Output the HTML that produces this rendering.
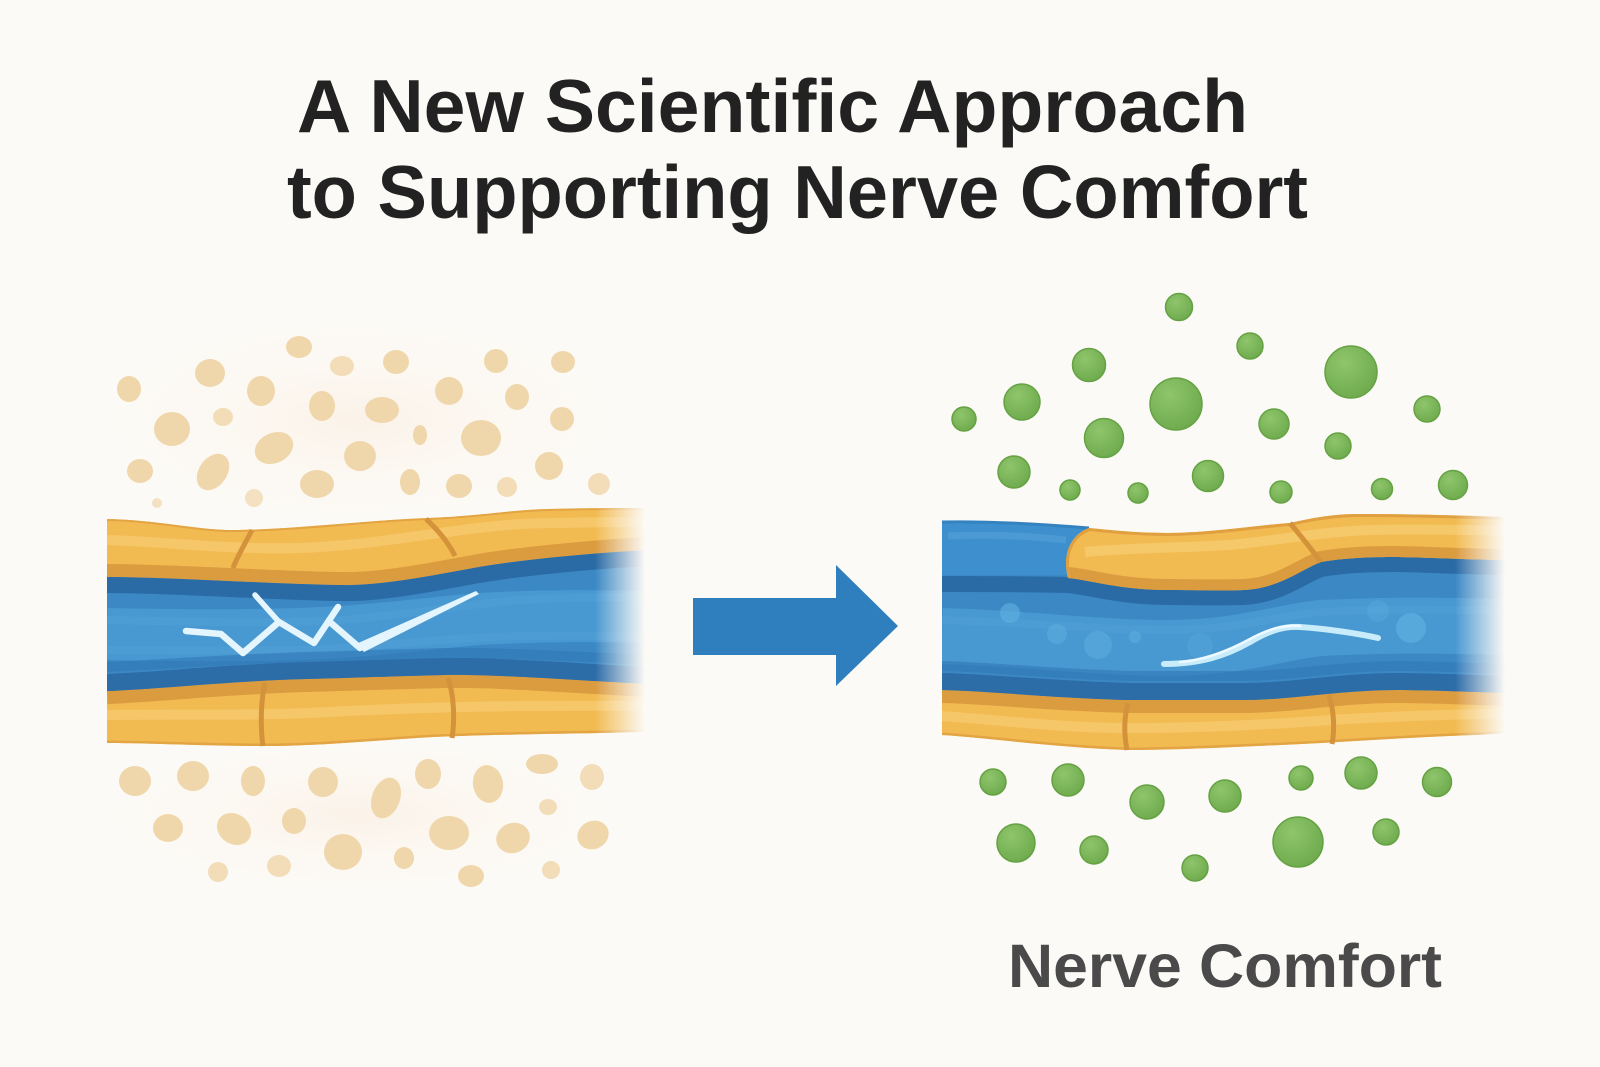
<!DOCTYPE html>
<html><head><meta charset="utf-8"><style>
html,body{margin:0;padding:0;background:#fcfaf6;}
svg{display:block;}
</style></head><body>
<svg width="1600" height="1067" viewBox="0 0 1600 1067" xmlns="http://www.w3.org/2000/svg">
<defs>
<radialGradient id="gd" cx="0.38" cy="0.32" r="0.7">
<stop offset="0" stop-color="#8fc56c"/><stop offset="1" stop-color="#6fab4e"/>
</radialGradient>
<radialGradient id="warm" cx="0.5" cy="0.5" r="0.5">
<stop offset="0" stop-color="#fbf2e8"/><stop offset="1" stop-color="#fcfaf6" stop-opacity="0"/>
</radialGradient>
<linearGradient id="fadeL" gradientUnits="userSpaceOnUse" x1="595" y1="0" x2="645" y2="0">
<stop offset="0" stop-color="#fff"/><stop offset="1" stop-color="#000"/>
</linearGradient>
<linearGradient id="fadeR" gradientUnits="userSpaceOnUse" x1="1455" y1="0" x2="1505" y2="0">
<stop offset="0" stop-color="#fff"/><stop offset="1" stop-color="#000"/>
</linearGradient>
<mask id="mL"><rect x="0" y="0" width="1600" height="1067" fill="url(#fadeL)"/></mask>
<mask id="mR"><rect x="0" y="0" width="1600" height="1067" fill="url(#fadeR)"/></mask>
<clipPath id="cBL"><path d="M107,577 C170,577 270,584 341,585 C380,586 430,576 479,567 C520,560 590,553 650,550 L650,684 C600,682 500,674 445,675 C400,676 350,678 307,679 C230,681 160,689 107,691 Z"/></clipPath>
<clipPath id="cUL"><path d="M107,519 C160,520 200,531 238,530 C300,529 370,520 428,518 C480,516 510,510 548,509 C590,508 620,508 650,508 L650,605 L107,605 Z"/></clipPath>
<clipPath id="cLL"><path d="M107,670 L650,665 L650,732 C620,732 610,733 600,733 C540,734 480,735 433,737 C380,740 320,746 267,746 C200,746 150,743 107,743 Z"/></clipPath>
<clipPath id="cBR"><path d="M942,522 C990,521 1040,524 1089,528 L1080,560 L1300,560 L1350,545 L1510,545 L1510,693 C1470,692 1430,690 1397,690 C1340,690 1290,700 1244,700 C1200,700 1160,700 1130,700 C1050,698 990,691 942,690 Z"/></clipPath>
<clipPath id="cYR"><path d="M1068,578 C1062,555 1070,535 1089,528 C1120,531 1140,533 1168,533 C1210,533 1260,525 1290,523 C1320,516 1340,514 1359,514 C1420,514 1470,516 1510,517 L1510,560 C1480,560 1440,558 1398,557 C1380,557 1350,557 1321,562 C1300,570 1280,588 1244,590 C1220,591 1190,590 1168,590 C1120,590 1090,580 1068,578 Z"/></clipPath>
<clipPath id="cLR"><path d="M942,675 L1510,675 L1510,733 C1490,734 1480,735 1474,735 C1420,737 1370,740 1321,743 C1260,746 1180,750 1130,750 C1060,748 990,738 942,735 Z"/></clipPath>
</defs>

<rect width="1600" height="1067" fill="#fcfaf6"/>
<ellipse cx="360" cy="420" rx="300" ry="120" fill="url(#warm)"/>
<ellipse cx="360" cy="815" rx="300" ry="90" fill="url(#warm)"/>

<!-- Title -->
<text x="297" y="132" font-family="Liberation Sans, Arial, sans-serif" font-weight="bold" font-size="75" fill="#222" textLength="951" lengthAdjust="spacingAndGlyphs">A New Scientific Approach</text>
<text x="287" y="218" font-family="Liberation Sans, Arial, sans-serif" font-weight="bold" font-size="75" fill="#222" textLength="1021" lengthAdjust="spacingAndGlyphs">to Supporting Nerve Comfort</text>

<!-- Beige dots top -->
<g fill="#f0d7ab">
<ellipse cx="299" cy="347" rx="13" ry="11"/>
<ellipse cx="342" cy="366" rx="12" ry="10" fill="#f2ddb8"/>
<ellipse cx="396" cy="362" rx="13" ry="12"/>
<ellipse cx="496" cy="361" rx="12" ry="12"/>
<ellipse cx="563" cy="362" rx="12" ry="11"/>
<ellipse cx="210" cy="373" rx="15" ry="14"/>
<ellipse cx="129" cy="389" rx="12" ry="13"/>
<ellipse cx="261" cy="391" rx="14" ry="15"/>
<ellipse cx="449" cy="391" rx="14" ry="14"/>
<ellipse cx="517" cy="397" rx="12" ry="13"/>
<ellipse cx="322" cy="406" rx="13" ry="15"/>
<ellipse cx="382" cy="410" rx="17" ry="13"/>
<ellipse cx="223" cy="417" rx="10" ry="9" fill="#f2ddb8"/>
<ellipse cx="172" cy="429" rx="18" ry="17"/>
<ellipse cx="562" cy="419" rx="12" ry="12"/>
<ellipse cx="420" cy="435" rx="7" ry="10"/>
<ellipse cx="481" cy="438" rx="20" ry="18"/>
<ellipse cx="274" cy="448" rx="20" ry="15" transform="rotate(-25 274 448)"/>
<ellipse cx="360" cy="456" rx="16" ry="15"/>
<ellipse cx="140" cy="471" rx="13" ry="12"/>
<ellipse cx="213" cy="472" rx="14" ry="20" transform="rotate(35 213 472)"/>
<ellipse cx="549" cy="466" rx="14" ry="14"/>
<ellipse cx="317" cy="484" rx="17" ry="14"/>
<ellipse cx="410" cy="482" rx="10" ry="13"/>
<ellipse cx="459" cy="486" rx="13" ry="12"/>
<ellipse cx="507" cy="487" rx="10" ry="10" fill="#f2ddb8"/>
<ellipse cx="599" cy="484" rx="11" ry="11" fill="#f2ddb8"/>
<ellipse cx="254" cy="498" rx="9" ry="9" fill="#f3e1c2"/>
<ellipse cx="157" cy="503" rx="5" ry="5" fill="#f3e1c2"/>
</g>
<!-- Beige dots bottom -->
<g fill="#f0d7ab">
<ellipse cx="135" cy="781" rx="16" ry="15"/>
<ellipse cx="193" cy="776" rx="16" ry="15"/>
<ellipse cx="253" cy="781" rx="12" ry="15"/>
<ellipse cx="323" cy="782" rx="15" ry="15"/>
<ellipse cx="386" cy="798" rx="14" ry="21" transform="rotate(20 386 798)"/>
<ellipse cx="428" cy="774" rx="13" ry="15"/>
<ellipse cx="488" cy="784" rx="15" ry="19" transform="rotate(-10 488 784)"/>
<ellipse cx="542" cy="764" rx="16" ry="10"/>
<ellipse cx="592" cy="777" rx="12" ry="13" fill="#f2ddb8"/>
<ellipse cx="548" cy="807" rx="9" ry="8" fill="#f2ddb8"/>
<ellipse cx="168" cy="828" rx="15" ry="14"/>
<ellipse cx="234" cy="829" rx="18" ry="15" transform="rotate(35 234 829)"/>
<ellipse cx="294" cy="821" rx="12" ry="13"/>
<ellipse cx="449" cy="833" rx="20" ry="17"/>
<ellipse cx="513" cy="838" rx="17" ry="15" transform="rotate(-20 513 838)"/>
<ellipse cx="593" cy="835" rx="16" ry="14" transform="rotate(-25 593 835)"/>
<ellipse cx="343" cy="852" rx="19" ry="18"/>
<ellipse cx="404" cy="858" rx="10" ry="11"/>
<ellipse cx="279" cy="866" rx="12" ry="11" fill="#f2ddb8"/>
<ellipse cx="218" cy="872" rx="10" ry="10" fill="#f2ddb8"/>
<ellipse cx="471" cy="876" rx="13" ry="11"/>
<ellipse cx="551" cy="870" rx="9" ry="9" fill="#f2ddb8"/>
</g>

<!-- Left nerve -->
<g mask="url(#mL)">
  <!-- upper yellow -->
  <path d="M107,519 C160,520 200,531 238,530 C300,529 370,520 428,518 C480,516 510,510 548,509 C590,508 620,508 650,508 L650,605 L107,605 Z" fill="#f2bb52"/>
  <g clip-path="url(#cUL)">
    <path d="M107,540 C170,542 230,550 300,548 C380,545 440,530 520,524 C580,522 620,522 650,522" stroke="#f6ca6f" stroke-width="10" fill="none" opacity="0.8"/>
    <path d="M107,519 C160,520 200,531 238,530 C300,529 370,520 428,518 C480,516 510,510 548,509 C590,508 620,508 650,508" stroke="#e3a443" stroke-width="4" fill="none"/>
  </g>
  <path d="M107,577 C170,577 270,584 341,585 C380,586 430,576 479,567 C520,560 590,553 650,550" stroke="#db9b3f" stroke-width="26" fill="none" clip-path="url(#cUL)"/>
  <path d="M252,530 C246,542 238,555 233,568" stroke="#d4923a" stroke-width="5" fill="none"/>
  <path d="M426,519 C438,530 448,542 455,556" stroke="#d4923a" stroke-width="5" fill="none"/>
  <!-- lower yellow -->
  <path d="M107,670 L650,665 L650,732 C620,732 610,733 600,733 C540,734 480,735 433,737 C380,740 320,746 267,746 C200,746 150,743 107,743 Z" fill="#f2bb52"/>
  <g clip-path="url(#cLL)">
    <path d="M107,715 C180,714 260,716 330,712 C420,707 520,705 650,706" stroke="#f6ca6f" stroke-width="10" fill="none" opacity="0.8"/>
    <path d="M107,691 C160,689 230,681 307,679 C350,678 400,676 445,675 C500,674 600,682 650,684" stroke="#db9b3f" stroke-width="26" fill="none"/>
    <path d="M107,743 C150,743 200,746 267,746 C320,746 380,740 433,737 C480,735 540,734 600,733 L650,732" stroke="#e3a443" stroke-width="5" fill="none"/>
  </g>
  <path d="M265,683 C261,700 260,725 263,746" stroke="#d4923a" stroke-width="5" fill="none"/>
  <path d="M448,678 C454,695 455,720 452,738" stroke="#d4923a" stroke-width="5" fill="none"/>
  <!-- blue -->
  <path d="M107,577 C170,577 270,584 341,585 C380,586 430,576 479,567 C520,560 590,553 650,550 L650,684 C600,682 500,674 445,675 C400,676 350,678 307,679 C230,681 160,689 107,691 Z" fill="#3b88c5"/>
  <g clip-path="url(#cBL)" fill="none">
    <path d="M107,634 C200,636 280,636 341,632 C400,628 440,622 479,619 C550,615 600,616 650,617" stroke="#4d9dd4" stroke-width="52" opacity="0.75"/>
    <path d="M107,620 C200,622 280,624 341,620 C400,616 450,606 520,600 C580,597 620,597 650,597" stroke="#5aa7dc" stroke-width="8" opacity="0.35"/>
    <path d="M107,650 C200,650 280,652 341,648 C400,644 450,638 520,636 C580,635 620,636 650,636" stroke="#5aa7dc" stroke-width="8" opacity="0.3"/>
    <path d="M107,585 C170,585 270,592 341,593 C380,594 430,584 479,575 C520,568 590,561 650,558" stroke="#2a6ba6" stroke-width="16"/>
    <path d="M107,683 C160,681 230,673 307,671 C350,670 400,668 445,667 C500,666 600,674 650,676" stroke="#2c6ca7" stroke-width="18"/>
    <path d="M107,667 C160,665 230,659 307,657 C350,656 400,654 445,653 C500,652 600,658 650,660" stroke="#3278b5" stroke-width="10" opacity="0.6"/>
  </g>
  <!-- crack -->
  <g stroke="#e4f5fd" fill="none" stroke-linecap="round" stroke-linejoin="round">
    <polyline points="186,631 221,634 243,653 279,622 314,643 338,607" stroke-width="6.5"/>
    <polyline points="331,623 360,648" stroke-width="6.5"/>
    <path d="M255,595 L279,622" stroke-width="5.5"/>
  </g>
  <path d="M356,644 L476,591 L479,594 L364,652 Z" fill="#e4f5fd"/>
</g>

<!-- Arrow -->
<path d="M693,598 L836,598 L836,565 L898,626 L836,686 L836,655 L693,655 Z" fill="#2f7fbe"/>

<!-- Green dots top -->
<g fill="url(#gd)" stroke="#64a243" stroke-width="1.5">
<circle cx="1179" cy="307" r="13.5"/>
<circle cx="1250" cy="346" r="13"/>
<circle cx="1089" cy="365" r="16.5"/>
<circle cx="1351" cy="372" r="26"/>
<circle cx="1022" cy="402" r="18"/>
<circle cx="1176" cy="404" r="26"/>
<circle cx="964" cy="419" r="12"/>
<circle cx="1427" cy="409" r="13"/>
<circle cx="1104" cy="438" r="19.5"/>
<circle cx="1274" cy="424" r="15"/>
<circle cx="1338" cy="446" r="13"/>
<circle cx="1014" cy="472" r="16"/>
<circle cx="1208" cy="476" r="15.5"/>
<circle cx="1070" cy="490" r="10"/>
<circle cx="1138" cy="493" r="10"/>
<circle cx="1281" cy="492" r="11"/>
<circle cx="1382" cy="489" r="10.5"/>
<circle cx="1453" cy="485" r="14.5"/>
</g>
<!-- Green dots bottom -->
<g fill="url(#gd)" stroke="#64a243" stroke-width="1.5">
<circle cx="993" cy="782" r="13"/>
<circle cx="1068" cy="780" r="16"/>
<circle cx="1147" cy="802" r="17"/>
<circle cx="1225" cy="796" r="16"/>
<circle cx="1301" cy="778" r="12"/>
<circle cx="1361" cy="773" r="16"/>
<circle cx="1437" cy="782" r="14.5"/>
<circle cx="1016" cy="843" r="19"/>
<circle cx="1094" cy="850" r="14"/>
<circle cx="1195" cy="868" r="13"/>
<circle cx="1298" cy="842" r="25"/>
<circle cx="1386" cy="832" r="13"/>
</g>

<!-- Right nerve -->
<g mask="url(#mR)">
  <!-- lower yellow -->
  <path d="M942,675 L1510,675 L1510,733 C1490,734 1480,735 1474,735 C1420,737 1370,740 1321,743 C1260,746 1180,750 1130,750 C1060,748 990,738 942,735 Z" fill="#f2bb52"/>
  <g clip-path="url(#cLR)" fill="none">
    <path d="M942,716 C1000,720 1060,728 1130,728 C1200,728 1280,724 1330,720 C1400,716 1460,714 1510,714" stroke="#f6ca6f" stroke-width="10" opacity="0.8"/>
    <path d="M942,690 C990,691 1050,698 1130,700 C1160,700 1200,700 1244,700 C1290,700 1340,690 1397,690 C1430,690 1470,692 1510,693" stroke="#db9b3f" stroke-width="26"/>
    <path d="M942,735 C990,738 1060,748 1130,750 C1180,750 1260,746 1321,743 C1370,740 1420,737 1474,735 L1510,733" stroke="#e3a443" stroke-width="5"/>
  </g>
  <path d="M1128,703 C1124,718 1124,735 1127,750" stroke="#d4923a" stroke-width="5" fill="none"/>
  <path d="M1329,695 C1334,712 1335,728 1332,744" stroke="#d4923a" stroke-width="5" fill="none"/>
  <!-- blue body -->
  <path d="M942,522 C990,521 1040,524 1089,528 L1080,560 L1300,560 L1350,545 L1510,545 L1510,693 C1470,692 1430,690 1397,690 C1340,690 1290,700 1244,700 C1200,700 1160,700 1130,700 C1050,698 990,691 942,690 Z" fill="#3b88c5"/>
  <g clip-path="url(#cBR)" fill="none">
    <path d="M942,636 C1020,638 1100,648 1168,648 C1240,648 1280,632 1321,628 C1400,624 1460,626 1510,627" stroke="#4d9dd4" stroke-width="56" opacity="0.75"/>
    <path d="M942,620 C1020,622 1100,630 1168,630 C1240,630 1280,615 1321,612 C1400,608 1460,610 1510,611" stroke="#5aa7dc" stroke-width="8" opacity="0.3"/>
    <path d="M942,584 C1000,584 1040,584 1068,585 C1090,587 1120,597 1168,597 C1190,597 1220,598 1244,597 C1280,595 1300,577 1321,569 C1350,564 1380,564 1398,564 C1440,565 1480,567 1510,567" stroke="#2a6ba6" stroke-width="16"/>
    <path d="M942,682 C990,683 1050,690 1130,692 C1160,692 1200,692 1244,692 C1290,692 1340,682 1397,682 C1430,682 1470,684 1510,685" stroke="#2c6ca7" stroke-width="18"/>
    <path d="M942,666 C990,667 1050,674 1130,676 C1160,676 1200,676 1244,676 C1290,676 1340,666 1397,666 C1430,666 1470,668 1510,669" stroke="#3278b5" stroke-width="10" opacity="0.6"/>
  </g>
  <!-- blue cell upper-left -->
  <path d="M942,522 C990,521 1040,524 1089,528 C1070,535 1062,555 1068,575 L942,575 Z" fill="#3d8fcd"/>
  <path d="M948,536 C990,534 1030,536 1066,540" stroke="#5ba6dc" stroke-width="7" fill="none" opacity="0.5"/>
  <path d="M942,522 C990,521 1040,524 1089,528" stroke="#3582c0" stroke-width="3" fill="none"/>
  <!-- bubbles -->
  <g fill="#5eafe0">
    <circle cx="1010" cy="613" r="10" opacity="0.65"/>
    <circle cx="1057" cy="634" r="10" opacity="0.55"/>
    <circle cx="1098" cy="645" r="14" opacity="0.55"/>
    <circle cx="1135" cy="637" r="6" opacity="0.55"/>
    <circle cx="1200" cy="646" r="13" opacity="0.3"/>
    <circle cx="1378" cy="611" r="11" opacity="0.35"/>
    <circle cx="1411" cy="628" r="15" opacity="0.7"/>
  </g>
  <!-- squiggle -->
  <path d="M1164,664 C1200,664 1225,656 1250,642 C1270,630 1285,626 1300,627 C1330,629 1360,634 1378,638" stroke="#c9ecfb" stroke-width="6" fill="none" stroke-linecap="round"/>
  <path d="M1180,662 C1205,660 1228,651 1250,639 C1268,629 1283,625 1300,626" stroke="#eefaff" stroke-width="2.5" fill="none" stroke-linecap="round"/>
  <!-- upper yellow cells -->
  <path d="M1068,578 C1062,555 1070,535 1089,528 C1120,531 1140,533 1168,533 C1210,533 1260,525 1290,523 C1320,516 1340,514 1359,514 C1420,514 1470,516 1510,517 L1510,560 C1480,560 1440,558 1398,557 C1380,557 1350,557 1321,562 C1300,570 1280,588 1244,590 C1220,591 1190,590 1168,590 C1120,590 1090,580 1068,578 Z" fill="#f2bb52"/>
  <g clip-path="url(#cYR)" fill="none">
    <path d="M1085,552 C1120,548 1180,548 1230,545 C1280,540 1320,532 1370,530 C1430,529 1480,530 1510,531" stroke="#f6ca6f" stroke-width="10" opacity="0.85"/>
    <path d="M1068,578 C1090,580 1120,590 1168,590 C1190,590 1220,591 1244,590 C1280,588 1300,570 1321,562 C1350,557 1380,557 1398,557 C1440,558 1480,560 1510,560" stroke="#db9b3f" stroke-width="22"/>
    <path d="M1068,578 C1062,555 1070,535 1089,528 C1120,531 1140,533 1168,533 C1210,533 1260,525 1290,523 C1320,516 1340,514 1359,514 C1420,514 1470,516 1510,517" stroke="#e0a040" stroke-width="6"/>
  </g>
  <path d="M1290,523 C1300,535 1312,550 1321,562" stroke="#d4923a" stroke-width="5" fill="none"/>
</g>

<text x="1008" y="987" font-family="Liberation Sans, Arial, sans-serif" font-weight="bold" font-size="61" fill="#4a4a4a" textLength="434" lengthAdjust="spacingAndGlyphs">Nerve Comfort</text>
</svg>
</body></html>
